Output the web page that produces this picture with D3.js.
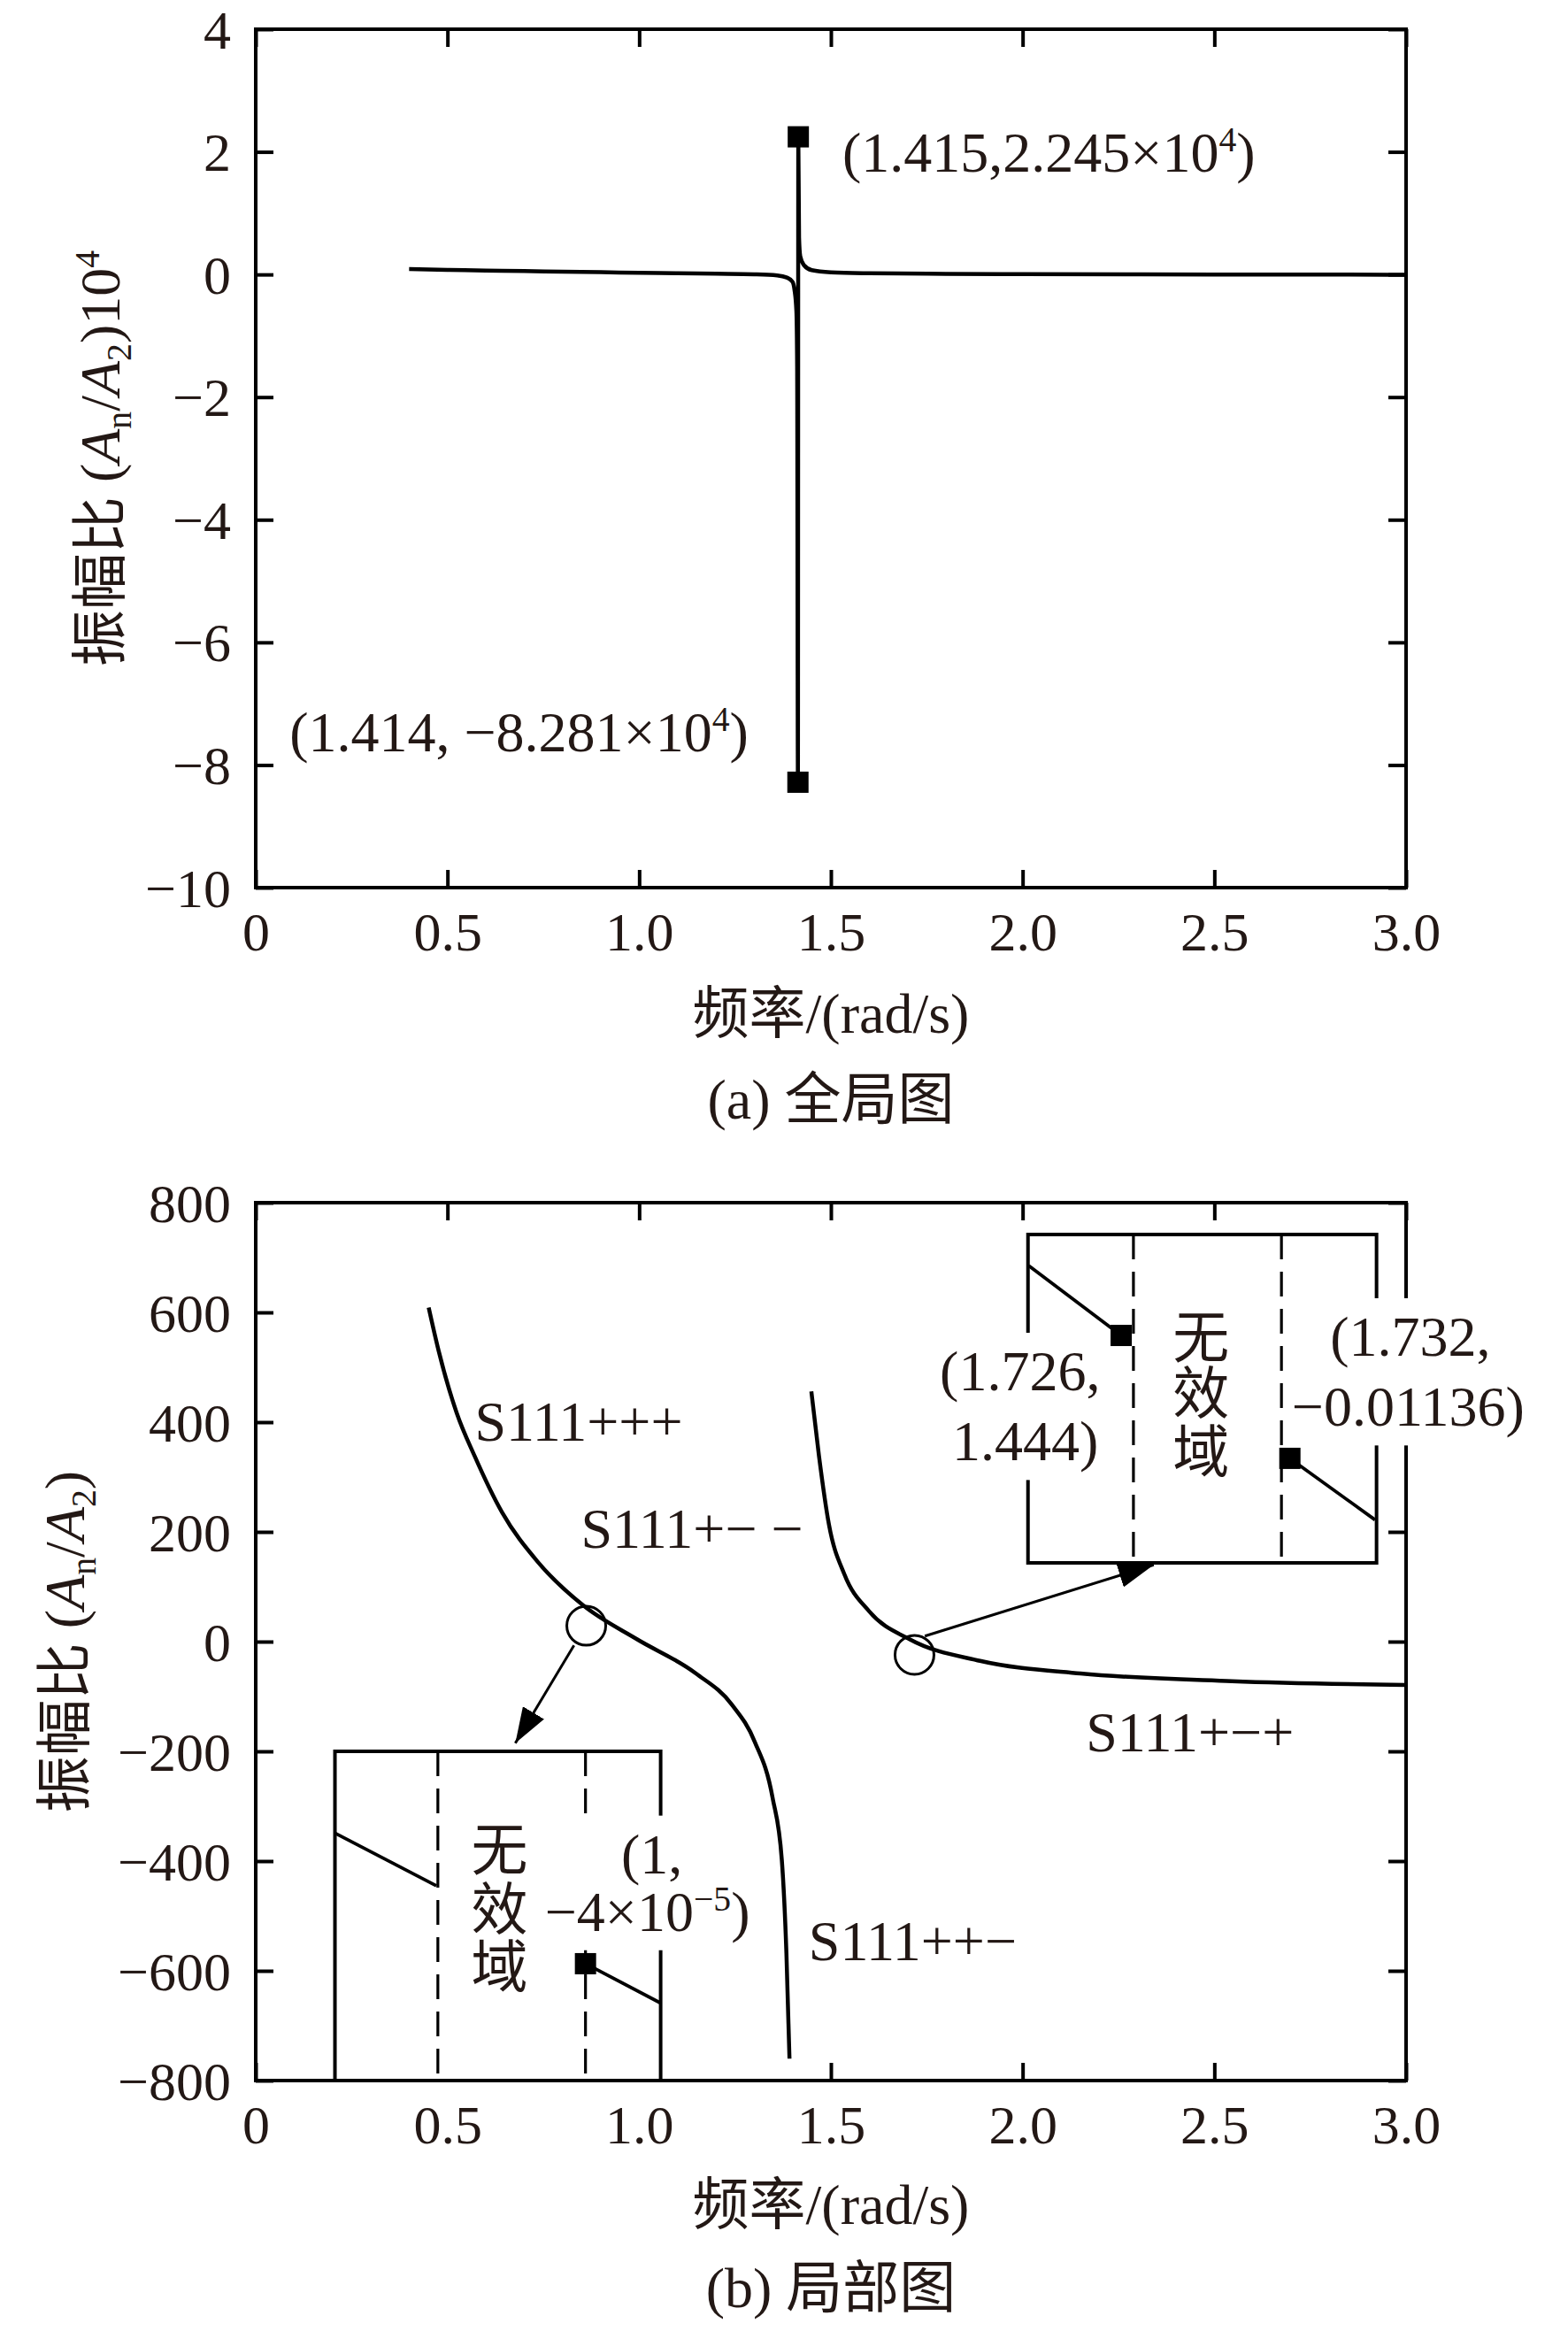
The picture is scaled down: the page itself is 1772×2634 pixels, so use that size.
<!DOCTYPE html>
<html>
<head>
<meta charset="utf-8">
<script src="https://cdn.jsdelivr.net/npm/d3@7"></script>
<style>
  body { margin: 0; background: #fff; }
  text { font-family: "Liberation Serif", "Noto Sans CJK SC", serif; fill: #231815; }
</style>
</head>
<body>
<div id="chart"></div>
<script>
// ---- data ----
const xTicks = [0, 0.5, 1.0, 1.5, 2.0, 2.5, 3.0];
const xTickLabels = ['0', '0.5', '1.0', '1.5', '2.0', '2.5', '3.0'];

const yTicksA = [-10, -8, -6, -4, -2, 0, 2, 4];
const yTickLabelsA = ['−10', '−8', '−6', '−4', '−2', '0', '2', '4'];
const yTicksB = [-800, -600, -400, -200, 0, 200, 400, 600, 800];
const yTickLabelsB = ['−800', '−600', '−400', '−200', '0', '200', '400', '600', '800'];

// (a) full view, amplitude ratio in units of 10^4
const freqA = [0.40, 0.50, 0.60, 0.70, 0.80, 0.90, 1.00, 1.10, 1.20, 1.30, 1.36, 1.385, 1.40, 1.405,
               1.41, 1.412, 1.414, 1.415, 1.417, 1.42, 1.43, 1.45, 1.50, 1.60, 1.80, 2.00, 2.50, 3.00];
const ampA = [0.087, 0.076, 0.065, 0.055, 0.046, 0.037, 0.028, 0.020, 0.012, 0.003, -0.015, -0.05, -0.12, -0.25,
              -0.6, -1.5, -8.281, 2.245, 0.6, 0.3, 0.15, 0.07, 0.035, 0.02, 0.01, 0.005, 0.0, -0.004];
const peakF = [1.414, 1.415];
const peakV = [-8.281, 2.245];

// (b) local view
const freqB1 = [0.451, 0.477, 0.524, 0.571, 0.642, 0.736, 0.854, 0.995, 1.148, 1.242, 1.301, 1.348, 1.372, 1.384, 1.392];
const ampB1 = [609, 530, 417, 338, 236, 145, 66, 4, -58, -115, -182, -285, -398, -568, -760];
const freqB2 = [1.449, 1.469, 1.495, 1.535, 1.600, 1.706, 1.889, 2.151, 2.546, 3.000];
const ampB2 = [456, 338, 213, 123, 55, 4, -35, -58, -72, -79];

const W = 1772, H = 2634;
const FS = 62, FL = 64;

const svg = d3.select('#chart').append('svg')
  .attr('width', W).attr('height', H)
  .attr('viewBox', `0 0 ${W} ${H}`);
svg.append('rect').attr('width', W).attr('height', H).attr('fill', '#fff');

svg.append('defs').append('marker')
  .attr('id', 'arrow')
  .attr('viewBox', '0 0 40 28')
  .attr('refX', 40).attr('refY', 14)
  .attr('markerUnits', 'userSpaceOnUse')
  .attr('markerWidth', 40).attr('markerHeight', 28)
  .attr('orient', 'auto')
  .append('path').attr('d', 'M0,0L40,14L0,28Z').attr('fill', '#000');

// text with sub/superscript parts
function rich(sel, parts, size) {
  let shift = 0;
  parts.forEach(p => {
    const ts = sel.append('tspan').text(p.t);
    const target = p.sup ? -0.36 * size : p.sub ? 0.2 * size : 0;
    ts.attr('dy', target - shift);
    shift = target;
    if (p.sup || p.sub) ts.attr('font-size', size * 0.62);
    if (p.it) ts.attr('font-style', 'italic');
  });
  return sel;
}

function whiteBack(g, pad) {
  const b = g.node().getBBox();
  g.insert('rect', ':first-child')
    .attr('x', b.x - pad).attr('y', b.y - pad)
    .attr('width', b.width + 2 * pad).attr('height', b.height + 2 * pad)
    .attr('fill', '#fff');
}

function drawFrame(x, y, yTicks, yLabels, top, bottom) {
  const xl = d => xTickLabels[xTicks.indexOf(d)];
  const yl = d => yLabels[yTicks.indexOf(d)];

  const ax = svg.append('g');
  ax.append('g').attr('transform', `translate(0,${bottom})`)
    .call(d3.axisBottom(x).tickValues(xTicks).tickFormat(xl).tickSize(-20))
    .call(g => g.selectAll('.tick text').attr('y', 71).attr('dy', 0));
  ax.append('g').attr('transform', `translate(0,${top})`)
    .call(d3.axisTop(x).tickValues(xTicks).tickFormat('').tickSize(-20));
  ax.append('g').attr('transform', `translate(289,0)`)
    .call(d3.axisLeft(y).tickValues(yTicks).tickFormat(yl).tickSize(-20).tickPadding(28))
    .call(g => g.selectAll('.tick text').attr('dy', '0.34em'));
  ax.append('g').attr('transform', `translate(1589,0)`)
    .call(d3.axisRight(y).tickValues(yTicks).tickFormat('').tickSize(-20));

  ax.selectAll(':scope > g').attr('font-size', FS).attr('font-family', null);
  ax.selectAll('.domain').remove();
  ax.selectAll('.tick line').attr('stroke', '#000').attr('stroke-width', 4);

  svg.append('rect')
    .attr('x', 289).attr('y', top)
    .attr('width', 1300).attr('height', bottom - top)
    .attr('fill', 'none').attr('stroke', '#000').attr('stroke-width', 4);
}

function titles(x, top, bottom, yParts, yCx, xBase, capBase, caption) {
  const cx = (x.range()[0] + x.range()[1]) / 2;
  const cy = (top + bottom) / 2;
  const yt = svg.append('text')
    .attr('transform', `translate(${yCx},${cy}) rotate(-90)`)
    .attr('text-anchor', 'middle')
    .attr('y', 0.35 * FL)
    .attr('font-size', FL);
  rich(yt, yParts, FL);
  svg.append('text').attr('x', cx).attr('y', xBase).attr('text-anchor', 'middle')
    .attr('font-size', FL).text('频率/(rad/s)');
  svg.append('text').attr('x', cx).attr('y', capBase).attr('text-anchor', 'middle')
    .attr('font-size', FL).text(caption);
}

// ================= (a) =================
{
  const top = 33, bottom = 1003;
  const x = d3.scaleLinear().domain([0, 3]).range([289, 1589]);
  const y = d3.scaleLinear().domain([-10, 4]).range([bottom, top]);

  drawFrame(x, y, yTicksA, yTickLabelsA, top, bottom);

  const line = d3.line().x(d => x(d[0])).y(d => y(d[1])).curve(d3.curveMonotoneX);
  svg.append('path')
    .datum(d3.zip(freqA, ampA))
    .attr('d', line)
    .attr('fill', 'none').attr('stroke', '#000').attr('stroke-width', 4.5);

  svg.append('g').selectAll('rect')
    .data(d3.zip(peakF, peakV))
    .join('rect')
    .attr('x', d => x(d[0]) - 12).attr('y', d => y(d[1]) - 12)
    .attr('width', 24).attr('height', 24)
    .attr('fill', '#000');

  const notes = [
    { f: 1.530, v: 1.674, parts: [{ t: '(1.415,2.245×10' }, { t: '4', sup: true }, { t: ')' }] },
    { f: 0.088, v: -7.78, parts: [{ t: '(1.414, −8.281×10' }, { t: '4', sup: true }, { t: ')' }] },
  ];
  notes.forEach(n => {
    rich(svg.append('text').attr('x', x(n.f)).attr('y', y(n.v)).attr('font-size', FL), n.parts, FL);
  });

  titles(x, top, bottom,
    [{ t: '振幅比 (' }, { t: 'A', it: true }, { t: 'n', sub: true }, { t: '/' }, { t: 'A', it: true },
     { t: '2', sub: true }, { t: ')10' }, { t: '4', sup: true }],
    113, 1167, 1264, '(a) 全局图');
}

// ================= (b) =================
{
  const top = 1359, bottom = 2351;
  const x = d3.scaleLinear().domain([0, 3]).range([289, 1589]);
  const y = d3.scaleLinear().domain([-800, 800]).range([bottom, top]);

  drawFrame(x, y, yTicksB, yTickLabelsB, top, bottom);

  const line = d3.line().x(d => x(d[0])).y(d => y(d[1])).curve(d3.curveMonotoneX);
  [d3.zip(freqB1, ampB1), d3.zip(freqB2, ampB2)].forEach(s => {
    svg.append('path').datum(s).attr('d', line)
      .attr('fill', 'none').attr('stroke', '#000').attr('stroke-width', 4.5);
  });

  // branch labels
  const branchLabels = [
    { f: 0.571, v: 366, t: 'S111+++' },
    { f: 0.848, v: 171, t: 'S111+− −' },
    { f: 1.442, v: -581, t: 'S111++−' },
    { f: 2.165, v: -200, t: 'S111+−+' },
  ];
  svg.append('g').selectAll('text').data(branchLabels).join('text')
    .attr('x', d => x(d.f)).attr('y', d => y(d.v))
    .attr('font-size', FL).text(d => d.t);

  // zoomed-in insets around the invalid domains
  const insets = [
    {
      box: [0.2066, 1.056, -800, -200], dashes: [0.475, 0.860],
      segs: [[[0.2066, -349], [0.471, -445]], [[0.860, -587], [1.054, -658]]],
      marks: [[0.860, -587]],
      word: { f: 0.636, v: [-381, -489, -595] },
      notes: [[
        { f: 0.953, v: -422, parts: [{ t: '(1,' }] },
        { f: 0.754, v: -527, parts: [{ t: '−4×10' }, { t: '−5', sup: true }, { t: ')' }] },
      ]],
    },
    {
      box: [2.014, 2.923, 143.5, 742], dashes: [2.289, 2.675],
      segs: [[[2.016, 685], [2.257, 558]], [[2.697, 334], [2.919, 222]]],
      marks: [[2.257, 558], [2.697, 334]],
      word: { f: 2.465, v: [553, 451, 344] },
      notes: [
        [{ f: 1.784, v: 458, parts: [{ t: '(1.726,' }] }, { f: 1.816, v: 330, parts: [{ t: '1.444)' }] }],
        [{ f: 2.802, v: 521, parts: [{ t: '(1.732,' }] }, { f: 2.702, v: 393, parts: [{ t: '−0.01136)' }] }],
      ],
    },
  ];

  insets.forEach(ins => {
    const g = svg.append('g');
    const [x0, x1, y0, y1] = ins.box;
    g.append('rect')
      .attr('x', x(x0)).attr('y', y(y1))
      .attr('width', x(x1) - x(x0)).attr('height', y(y0) - y(y1))
      .attr('fill', '#fff').attr('stroke', '#000').attr('stroke-width', 4);
    g.selectAll('line.dash').data(ins.dashes).join('line')
      .attr('class', 'dash')
      .attr('x1', d => x(d)).attr('x2', d => x(d))
      .attr('y1', y(y1)).attr('y2', y(y0))
      .attr('stroke', '#000').attr('stroke-width', 3.2)
      .attr('stroke-dasharray', '28,14');
    g.selectAll('line.seg').data(ins.segs).join('line')
      .attr('class', 'seg')
      .attr('x1', d => x(d[0][0])).attr('y1', d => y(d[0][1]))
      .attr('x2', d => x(d[1][0])).attr('y2', d => y(d[1][1]))
      .attr('stroke', '#000').attr('stroke-width', 3.8);
    ins.word.v.forEach((v, i) => {
      g.append('text').attr('x', x(ins.word.f)).attr('y', y(v))
        .attr('text-anchor', 'middle').attr('dominant-baseline', 'central')
        .attr('font-size', FL).text('无效域'[i]);
    });
    ins.notes.forEach(block => {
      const tg = g.append('g');
      block.forEach(n => {
        rich(tg.append('text').attr('x', x(n.f)).attr('y', y(n.v)).attr('font-size', FL), n.parts, FL);
      });
      whiteBack(tg, 8);
    });
    g.selectAll('rect.mark').data(ins.marks).join('rect')
      .attr('class', 'mark')
      .attr('x', d => x(d[0]) - 12).attr('y', d => y(d[1]) - 12)
      .attr('width', 24).attr('height', 24).attr('fill', '#000');
  });

  // circles marking the zoomed spots and arrows to the insets
  const spots = [[0.862, 29], [1.718, -24]];
  svg.append('g').selectAll('circle').data(spots).join('circle')
    .attr('cx', d => x(d[0])).attr('cy', d => y(d[1])).attr('r', 22)
    .attr('fill', 'none').attr('stroke', '#000').attr('stroke-width', 3);

  const arrows = [[[0.830, -7], [0.677, -185]], [[1.745, 10], [2.342, 140]]];
  svg.append('g').selectAll('line').data(arrows).join('line')
    .attr('x1', d => x(d[0][0])).attr('y1', d => y(d[0][1]))
    .attr('x2', d => x(d[1][0])).attr('y2', d => y(d[1][1]))
    .attr('stroke', '#000').attr('stroke-width', 3)
    .attr('marker-end', 'url(#arrow)');

  titles(x, top, bottom,
    [{ t: '振幅比 (' }, { t: 'A', it: true }, { t: 'n', sub: true }, { t: '/' }, { t: 'A', it: true },
     { t: '2', sub: true }, { t: ')' }],
    73, 2513, 2607, '(b) 局部图');
}
</script>
</body>
</html>
